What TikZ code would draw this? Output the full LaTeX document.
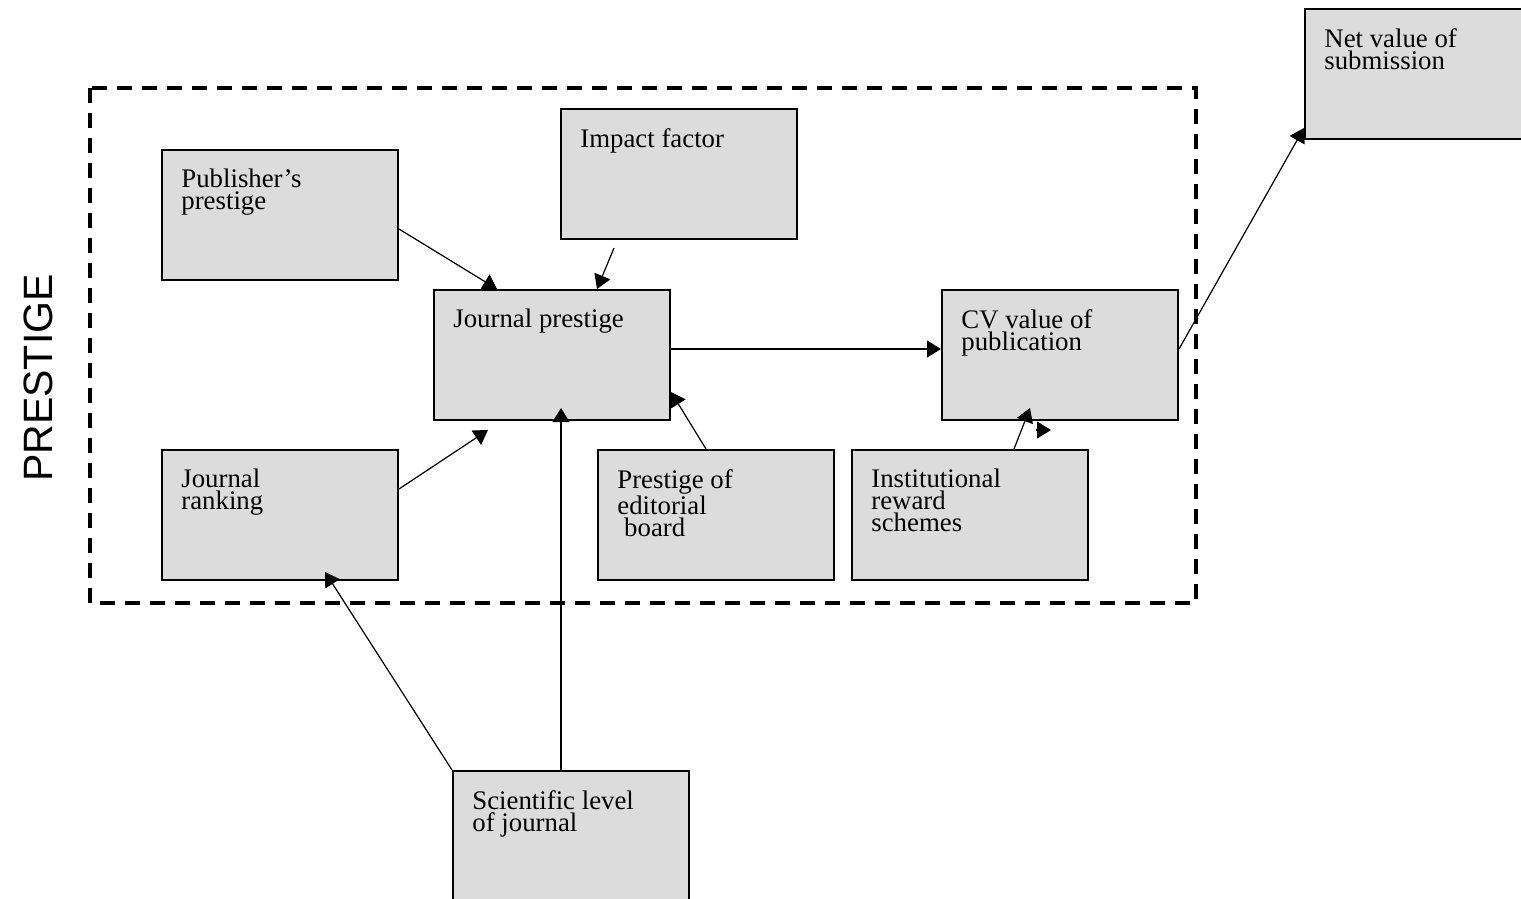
\documentclass[tikz,border=0pt]{standalone}
\usepackage{fontspec}
\setmainfont{Liberation Serif}
\newfontfamily\prsans{Liberation Sans}
\usetikzlibrary{arrows.meta}
\definecolor{boxgray}{HTML}{DCDCDC}
\tikzset{
  box/.style={draw, line width=1pt, fill=boxgray, minimum width=118pt, minimum height=65pt, anchor=north west, inner sep=0pt},
  lbl/.style={anchor=north west, align=left, inner sep=0pt, font=\fontsize{13.4}{11}\selectfont},
  conn/.style={line width=0.6pt, -{Triangle[length=7pt,width=8.5pt]}},
  frame/.style={line width=2pt, dash pattern=on 7.5pt off 5pt}
}
\begin{document}
\begin{tikzpicture}[x=0.5pt,y=-0.5pt]
\clip (0,0) rectangle (1521,899);
\fill[white] (0,0) rectangle (1521,899);
% dashed frame
\draw[frame] (90,88) rectangle (1196,603);
\node[rotate=90, font=\prsans\fontsize{20.5}{24}\selectfont, inner sep=0pt] (prestige) at (38,378) {PRESTIGE};
% boxes
\node[box] (pub) at (161,149) {};
\node[box] (imp) at (560,108) {};
\node[box] (jp) at (433,289) {};
\node[box] (cv) at (941,289) {};
\node[box] (jr) at (161,449) {};
\node[box] (ed) at (597,449) {};
\node[box] (inst) at (851,449) {};
\node[box, minimum height=75pt] (sci) at (452,770) {};
\node[box, minimum width=130pt] (net) at (1304,8) {};
% labels
\node[lbl] (pubt) at ([xshift=10pt,yshift=-10pt]pub.north west) {Publisher’s\\prestige};
\node[lbl] (impt) at ([xshift=10pt,yshift=-10pt]imp.north west) {Impact factor};
\node[lbl] (jpt) at ([xshift=10pt,yshift=-10pt]jp.north west) {Journal prestige};
\node[lbl] (cvt) at ([xshift=10pt,yshift=-10pt]cv.north west) {CV value of\\publication};
\node[lbl] (jrt) at ([xshift=10pt,yshift=-10pt]jr.north west) {Journal\\ranking};
\node[lbl] (edt) at ([xshift=10pt,yshift=-10pt]ed.north west) {Prestige of\\editorial\\\hspace*{3.4pt}board};
\node[lbl] (instt) at ([xshift=10pt,yshift=-10pt]inst.north west) {Institutional\\reward\\schemes};
\node[lbl] (scit) at ([xshift=10pt,yshift=-10pt]sci.north west) {Scientific level\\of journal};
\node[lbl] (nett) at ([xshift=10pt,yshift=-10pt]net.north west) {Net value of\\submission};
% helper coordinates
\coordinate (impend) at (614,248);
\coordinate (jrend) at (488,430);
\coordinate (stray1) at (1036,430);
\coordinate (stray2) at (1051,430);
% connectors
\draw[conn] (pub.east |- 0,229) -- (jp.north -| 497,0);
\draw[conn] (impend) -- (jp.north -| 597,0);
\draw[conn] (jp.east |- 0,349) -- (cv.west |- 0,349);
\draw[conn] (jr.east |- 0,489) -- (jrend);
\draw[conn] (sci.north -| 561,0) -- (561,408);
\draw[conn] (ed.north -| 706,0) -- (jp.east |- 0,392);
\draw[conn] (inst.north -| 1014,0) -- (1030,408);
\draw[conn] (stray1) -- (stray2);
\draw[conn] (sci.north west) -- (325,572);
\draw[conn] (cv.east |- 0,349) -- (net.south west |- 0,128);
\end{tikzpicture}
\end{document}
